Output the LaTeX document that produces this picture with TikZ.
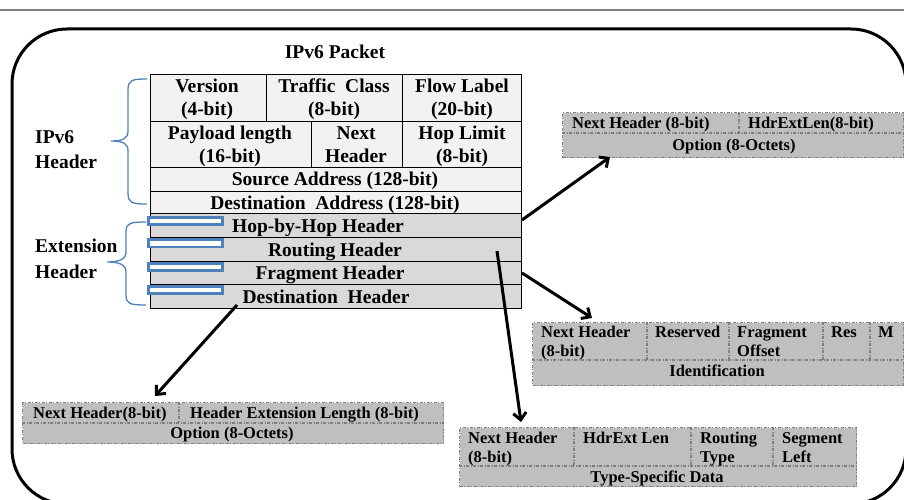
\documentclass[tikz,border=0pt]{standalone}
\usepackage{fontspec}
\setmainfont{Liberation Serif}
\usetikzlibrary{arrows.meta}
\definecolor{hdrfill}{HTML}{F2F2F2}
\definecolor{extfill}{HTML}{D9D9D9}
\definecolor{boxfill}{HTML}{BFBFBF}
\definecolor{boxline}{HTML}{7F7F7F}
\definecolor{msblue}{HTML}{4F81BD}
\tikzset{
  mt/.style={inner sep=0pt, font=\fontsize{19.5}{22}\selectfont\bfseries, text height=13pt, text depth=0pt},
  st/.style={inner sep=0pt, font=\fontsize{16.5}{19}\selectfont\bfseries, text height=11pt, text depth=0pt},
  cell/.style={draw=black, line width=1.1pt, rectangle, inner sep=0pt, anchor=north west},
  hcell/.style={cell, fill=hdrfill},
  ecell/.style={cell, fill=extfill},
  sidebox/.style={draw=boxline, fill=boxfill, line width=1.1pt, dash pattern=on 3pt off 1.5pt on 1pt off 1.5pt, rectangle, inner sep=0pt, anchor=north west},
  sidediv/.style={draw=boxline, line width=1.1pt, dash pattern=on 3pt off 1.5pt on 1pt off 1.5pt},
  bluebox/.style={draw=msblue, line width=2.7pt, fill=white},
  brace/.style={draw=msblue, line width=1.3pt},
  conn/.style={draw=black, line width=3pt, -{Straight Barb[length=7pt,width=13pt]}},
}
\begin{document}
\begin{tikzpicture}[x=1pt,y=-1pt]
\useasboundingbox (0,0) rectangle (904,500);
\clip (0,0) rectangle (904,500);
% top rule and outer frame
\draw[draw=gray, line width=1.5pt] (0,10) -- (904,10);
\draw[line width=3pt, rounded corners=55pt] (12,29) rectangle (906,504);

% title
\node[mt] (title) at (335,52) {IPv6 Packet};

% header rows
\node[hcell, minimum width=116pt, minimum height=47pt] (ver) at (150,74) {};
\node[hcell, minimum width=136pt, minimum height=47pt] (tc) at (266,74) {};
\node[hcell, minimum width=119pt, minimum height=47pt] (fl) at (402,74) {};
\node[hcell, minimum width=161pt, minimum height=46pt] (pl) at (150,121) {};
\node[hcell, minimum width=91pt, minimum height=46pt] (nh) at (311,121) {};
\node[hcell, minimum width=119pt, minimum height=46pt] (hl) at (402,121) {};
\node[hcell, minimum width=371pt, minimum height=24pt] (src) at (150,167) {};
\node[hcell, minimum width=371pt, minimum height=22pt] (dst) at (150,191) {};
% extension rows
\node[ecell, minimum width=371pt, minimum height=24pt] (hop) at (150,213) {};
\node[ecell, minimum width=371pt, minimum height=24pt] (rout) at (150,237) {};
\node[ecell, minimum width=371pt, minimum height=23pt] (frag) at (150,261) {};
\node[ecell, minimum width=371pt, minimum height=24pt] (dest) at (150,284) {};

% header texts
\node[mt] (t1a) at (207,86) {Version};
\node[mt] (t1b) at (207,109) {(4-bit)};
\node[mt] (t2a) at (334,86) {Traffic~~Class};
\node[mt] (t2b) at (334,109) {(8-bit)};
\node[mt] (t3a) at (462,86) {Flow Label};
\node[mt] (t3b) at (462,109) {(20-bit)};
\node[mt] (t4a) at (230,133) {Payload length};
\node[mt] (t4b) at (230,156) {(16-bit)};
\node[mt] (t5a) at (356,133) {Next};
\node[mt] (t5b) at (356,156) {Header};
\node[mt] (t6a) at (462,133) {Hop Limit};
\node[mt] (t6b) at (462,156) {(8-bit)};
\node[mt] (t7) at (335,179) {Source Address (128-bit)};
\node[mt] (t8) at (335,203) {Destination~~Address (128-bit)};
\node[mt] (t9) at (318,226) {Hop-by-Hop Header};
\node[mt] (t10) at (335,250) {Routing Header};
\node[mt] (t11) at (330,273) {Fragment Header};
\node[mt] (t12) at (326,297) {Destination~~Header};

% blue markers
\draw[bluebox] (148.5,217.5) rectangle (222.7,224.3);
\draw[bluebox] (148.5,239.7) rectangle (222.7,247);
\draw[bluebox] (148.5,263.7) rectangle (222.7,270.3);
\draw[bluebox] (148.5,286.4) rectangle (222.7,293.6);

% braces
\draw[brace] (147,79) .. controls (132,79) and (128,80) .. (128,90) -- (128,131)
  .. controls (128,138) and (124,141) .. (111,141)
  .. controls (124,141) and (128,144) .. (128,151) -- (128,193)
  .. controls (128,203) and (132,204) .. (147,204);
\draw[brace] (146,222) .. controls (130,222) and (126,223) .. (126,232) -- (126,252)
  .. controls (126,259) and (120,262) .. (107,262)
  .. controls (120,262) and (126,265) .. (126,272) -- (126,295)
  .. controls (126,304) and (130,305) .. (146,305);

% left labels
\node[mt, anchor=west] (l1) at (35,137) {IPv6};
\node[mt, anchor=west] (l2) at (35,162) {Header};
\node[mt, anchor=west] (l3) at (35,246) {Extension};
\node[mt, anchor=west] (l4) at (35,272) {Header};

% side box A (hop-by-hop)
\node[sidebox, minimum width=341pt, minimum height=45pt] (boxA) at (562,112) {};
\draw[sidediv] (562,133) -- (903,133);
\draw[sidediv] (739,112) -- (739,133);
\node[st, anchor=west] (a1) at (572,123) {Next Header (8-bit)};
\node[st, anchor=west] (a2) at (748,123) {HdrExtLen(8-bit)};
\node[st] (a3) at (734,145) {Option (8-Octets)};

% side box B (fragment)
\node[sidebox, minimum width=371pt, minimum height=63pt] (boxB) at (532,322) {};
\draw[sidediv] (532,360) -- (903,360);
\draw[sidediv] (647,322) -- (647,360);
\draw[sidediv] (729,322) -- (729,360);
\draw[sidediv] (823,322) -- (823,360);
\draw[sidediv] (870,322) -- (870,360);
\node[st, anchor=west] (b1) at (541,332) {Next Header};
\node[st, anchor=west] (b2) at (541,351) {(8-bit)};
\node[st, anchor=west] (b3) at (655,332) {Reserved};
\node[st, anchor=west] (b4) at (737,332) {Fragment};
\node[st, anchor=west] (b5) at (737,351) {Offset};
\node[st, anchor=west] (b6) at (831,332) {Res};
\node[st, anchor=west] (b7) at (878,332) {M};
\node[st] (b8) at (717,371) {Identification};

% side box C (destination)
\node[sidebox, minimum width=421pt, minimum height=41pt] (boxC) at (22,402) {};
\draw[sidediv] (22,423) -- (443,423);
\draw[sidediv] (179,402) -- (179,423);
\node[st, anchor=west] (c1) at (33,413) {Next Header(8-bit)};
\node[st, anchor=west] (c2) at (190,413) {Header Extension Length (8-bit)};
\node[st] (c3) at (232,433) {Option (8-Octets)};

% side box D (routing)
\node[sidebox, minimum width=397pt, minimum height=59pt] (boxD) at (459,427) {};
\draw[sidediv] (459,466) -- (856,466);
\draw[sidediv] (574,427) -- (574,466);
\draw[sidediv] (691,427) -- (691,466);
\draw[sidediv] (773,427) -- (773,466);
\node[st, anchor=west] (d1) at (468,438) {Next Header};
\node[st, anchor=west] (d2) at (468,457) {(8-bit)};
\node[st, anchor=west] (d3) at (583,438) {HdrExt Len};
\node[st, anchor=west] (d4) at (700,438) {Routing};
\node[st, anchor=west] (d5) at (700,457) {Type};
\node[st, anchor=west] (d6) at (782,438) {Segment};
\node[st, anchor=west] (d7) at (782,457) {Left};
\node[st] (d8) at (657,477) {Type-Specific Data};

% connectors
\coordinate (s1) at (522,220);
\coordinate (e1) at (610,157);
\coordinate (s2) at (522,273);
\coordinate (e2) at (592,318);
\coordinate (s3) at (497,251);
\coordinate (e3) at (521,422);
\coordinate (s4) at (237,305);
\coordinate (e4) at (155,396);
\draw[conn] (s1) -- (e1);
\draw[conn] (s2) -- (e2);
\draw[conn] (s3) -- (e3);
\draw[conn] (s4) -- (e4);
\end{tikzpicture}
\end{document}
